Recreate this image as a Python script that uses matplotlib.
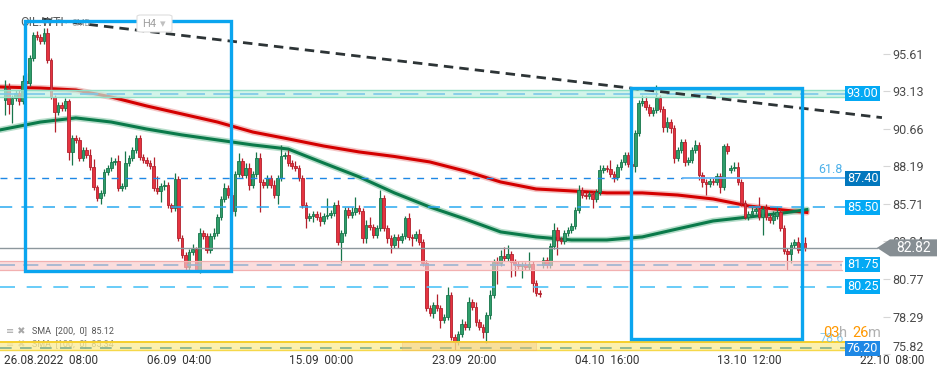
import numpy as np
import matplotlib
matplotlib.use("Agg")
import matplotlib.pyplot as plt
from matplotlib.patches import Rectangle, Polygon, FancyBboxPatch

plt.rcParams['font.family'] = ['Roboto', 'DejaVu Sans']

# ---- H4 candles of OIL.WTI (prices) ----
first_open = 92.56
closes = [
    93.35, 92.30, 92.69, 93.02, 92.50, 93.81, 93.68, 95.33, 96.84, 96.71,
    96.45, 96.98, 95.20, 92.76, 91.77, 92.23, 92.03, 92.50, 89.14, 90.06,
    89.93, 88.74, 89.27, 88.94, 88.15, 86.83, 86.11, 86.44, 87.82, 88.08,
    88.48, 88.54, 86.76, 86.90, 88.41, 88.74, 89.27, 90.06, 88.81, 88.61,
    88.41, 88.21, 86.76, 86.57, 86.90, 86.96, 85.64, 85.45, 87.36, 83.47,
    82.35, 81.56, 82.55, 82.75, 81.36, 83.80, 83.60, 82.68, 83.60, 83.80,
    84.85, 86.04, 86.76, 86.30, 85.25, 87.69, 88.54, 87.62, 88.08, 86.96,
    87.69, 88.74, 87.16, 86.96, 87.42, 86.96, 86.30, 87.42, 88.87, 88.94,
    88.41, 88.21, 88.08, 87.42, 85.64, 84.79, 84.92, 85.05, 84.85, 84.59,
    84.92, 84.99, 85.12, 85.64, 83.21, 83.80, 85.31, 84.99, 85.18, 85.45,
    85.25, 83.47, 84.33, 84.20, 83.67, 84.13, 86.11, 84.13, 83.47, 83.01,
    83.54, 83.34, 83.60, 84.79, 83.54, 83.47, 83.73, 83.21, 81.82, 78.86,
    78.53, 79.06, 78.86, 78.07, 78.27, 79.72, 76.95, 76.62, 77.15, 77.80,
    77.61, 79.25, 78.93, 77.94, 77.61, 77.28, 78.40, 79.72, 81.89, 81.82,
    82.28, 82.15, 82.42, 81.89, 81.76, 81.63, 81.69, 81.56, 81.76, 80.51,
    79.85, 79.78, 82.02, 81.69, 82.94, 84.00, 83.34, 83.27, 83.80, 84.00,
    84.26, 85.31, 86.63, 86.30, 86.24, 86.37, 86.04, 86.50, 87.95, 88.08,
    88.02, 87.69, 87.49, 88.15, 88.48, 88.94, 88.35, 88.21, 90.39, 92.36,
    92.50, 92.10, 91.71, 91.90, 92.69, 91.97, 90.78, 91.11, 90.72, 88.74,
    89.27, 89.80, 88.48, 88.61, 89.27, 89.60, 87.62, 87.16, 87.03, 87.23,
    87.16, 87.56, 86.83, 89.53, 89.20, 88.08, 88.15, 87.16, 85.78, 84.85,
    85.05, 85.25, 85.38, 84.85, 85.38, 84.85, 84.66, 84.92, 85.18, 84.13,
    82.61, 82.42, 83.01, 83.21, 82.68, 83.15, 82.82,
]
# candles that opened away from the previous close
gap_opens = {152: 81.69, 205: 87.95}

wick_up = [
    0.5, 0.3, 0.2, 0.2, 0.2, 0.4, 0.5, 0.2, 0.2, 0.3,
    0.2, 0.35, 0.3, 0.1, 0.15, 0.2, 0.2, 0.2, 0.15, 0.2,
    0.2, 0.2, 0.2, 0.2, 0.4, 0.5, 0.15, 0.2, 0.2, 0.2,
    0.3, 0.2, 0.4, 0.2, 0.8, 0.2, 0.2, 0.2, 0.2, 0.2,
    0.2, 0.2, 0.6, 0.8, 0.2, 0.3, 0.2, 0.15, 0.4, 0.2,
    0.2, 0.2, 0.2, 0.3, 0.15, 0.3, 0.2, 0.2, 0.2, 0.3,
    0.2, 0.2, 0.3, 0.2, 0.2, 0.2, 0.5, 0.2, 0.3, 0.3,
    0.2, 0.4, 0.3, 0.2, 0.2, 0.2, 0.3, 0.2, 0.7, 0.2,
    0.3, 0.2, 0.3, 0.2, 0.2, 0.2, 0.2, 0.2, 0.2, 0.3,
    0.2, 1.1, 0.2, 0.2, 0.3, 0.2, 0.2, 0.2, 0.3, 0.7,
    0.2, 0.2, 0.3, 0.5, 0.2, 0.2, 0.55, 0.2, 0.2, 0.2,
    0.2, 0.2, 0.2, 0.1, 0.3, 0.2, 0.2, 0.3, 0.2, 0.2,
    0.2, 0.2, 0.7, 0.2, 0.2, 0.5, 0.2, 0.2, 0.2, 0.3,
    0.2, 0.3, 0.2, 0.3, 0.2, 0.2, 0.2, 0.3, 0.2, 0.3,
    0.4, 0.6, 0.6, 0.2, 0.2, 0.2, 0.2, 0.2, 0.8, 0.2,
    0.2, 0.2, 0.2, 0.2, 0.2, 0.45, 0.2, 0.2, 0.2, 0.2,
    0.2, 0.2, 0.3, 0.2, 0.2, 0.2, 0.2, 0.2, 0.3, 0.2,
    0.2, 0.6, 0.2, 0.2, 0.2, 0.2, 0.2, 0.2, 0.2, 0.2,
    0.4, 0.3, 0.2, 0.2, 0.85, 0.2, 0.2, 0.3, 0.2, 0.2,
    0.2, 0.2, 0.2, 0.2, 0.2, 0.3, 0.2, 0.2, 0.2, 0.2,
    0.2, 0.2, 0.2, 0.1, 0.2, 0.2, 0.3, 0.3, 0.2, 0.2,
    0.2, 0.4, 0.2, 0.8, 0.2, 0.3, 0.2, 0.3, 0.35, 0.2,
    0.2, 0.2, 0.2, 0.2, 0.3, 0.2, 0.4,
]
wick_dn = [
    1.0, 0.65, 1.25, 0.2, 0.3, 0.2, 0.2, 0.2, 0.2, 0.2,
    0.2, 0.2, 0.2, 0.1, 1.3, 0.2, 0.2, 0.2, 0.5, 0.85,
    0.2, 0.2, 0.2, 0.2, 0.2, 0.2, 0.2, 0.4, 0.2, 0.2,
    0.2, 0.2, 0.2, 0.2, 0.2, 0.2, 0.2, 0.2, 0.2, 0.2,
    0.2, 0.2, 0.2, 0.2, 0.7, 0.3, 0.2, 0.3, 0.2, 0.2,
    0.2, 0.2, 0.2, 0.2, 0.1, 0.2, 0.2, 0.2, 0.2, 0.2,
    0.2, 0.2, 0.2, 0.2, 0.2, 0.3, 0.2, 0.2, 0.2, 0.3,
    0.2, 0.2, 2.0, 0.2, 0.2, 0.2, 0.2, 0.6, 0.2, 0.2,
    0.2, 0.2, 0.2, 0.2, 0.2, 0.65, 0.2, 0.4, 0.2, 0.3,
    0.2, 0.2, 0.2, 0.2, 0.2, 1.4, 0.2, 0.2, 0.2, 0.2,
    0.2, 0.3, 0.3, 0.2, 0.2, 0.2, 0.2, 0.2, 0.3, 0.5,
    0.2, 0.5, 0.2, 0.2, 0.2, 0.5, 0.2, 0.2, 0.2, 0.2,
    0.2, 0.3, 0.2, 0.5, 0.2, 0.2, 0.2, 0.5, 0.2, 0.2,
    0.2, 0.2, 0.2, 0.3, 0.2, 0.4, 0.7, 0.3, 0.2, 1.4,
    0.2, 0.2, 0.2, 1.0, 0.8, 0.2, 0.8, 0.2, 0.2, 0.6,
    0.2, 0.2, 0.2, 0.2, 0.2, 0.2, 1.0, 0.2, 0.2, 0.2,
    0.2, 0.2, 0.2, 0.2, 0.2, 0.2, 0.6, 0.2, 0.2, 0.2,
    0.2, 0.2, 0.35, 0.2, 0.2, 0.2, 0.2, 0.2, 0.4, 0.2,
    0.2, 0.2, 0.2, 0.2, 0.2, 0.2, 0.35, 0.3, 0.35, 0.35,
    0.2, 0.2, 0.3, 0.2, 0.2, 0.2, 0.3, 0.3, 0.7, 0.2,
    0.2, 0.2, 0.4, 0.2, 0.2, 0.2, 0.2, 0.2, 0.2, 0.1,
    0.2, 0.2, 0.2, 0.2, 1.2, 0.2, 0.2, 0.3, 0.2, 0.2,
    0.2, 1.05, 0.6, 0.2, 0.2, 0.6, 0.2,
]

# moving averages sampled along the chart
sma_idx = [-1.4, 10, 20, 30, 40, 50, 60, 70, 80, 90, 100, 110,
           120, 130, 140, 150, 160, 170, 180, 190, 200, 210, 220, 226.5]
sma200 = [93.42, 93.35, 93.22, 92.76, 92.17, 91.64, 91.11, 90.45, 90.00, 89.53, 89.14, 88.84,
          88.48, 87.88, 87.16, 86.70, 86.57, 86.44, 86.44, 86.30, 86.04, 85.58, 85.31, 85.15]
sma100 = [90.59, 91.11, 91.38, 91.11, 90.65, 90.26, 89.93, 89.60, 89.33, 88.41, 87.50, 86.44,
          85.51, 84.72, 83.87, 83.54, 83.34, 83.34, 83.54, 84.07, 84.59, 84.85, 85.12, 85.34]

price_ticks = [95.61, 93.13, 90.66, 88.19, 85.71, 83.24, 80.77, 78.29, 75.82]
time_labels = ["26.08.2022  08:00", "06.09  04:00", "15.09  00:00", "23.09  20:00",
               "04.10  16:00", "13.10  12:00", "22.10  08:00"]
current_price = 82.82

# drawn levels / annotations
level_boxes = [("93.00", 93.00, '#03a9f4'), ("87.40", 87.40, '#0277bd'),
               ("85.50", 85.50, '#03a9f4'), ("81.75", 81.75, '#03a9f4'),
               ("80.25", 80.25, '#03a9f4'), ("76.20", 76.20, '#1e88e5')]
trend_idx = [10.5, 247.7]
trend_price = [97.90, 91.40]
zones = [(5.65, 63.8, 81.30, 97.77), (176.8, 225.1, 76.82, 93.35)]

# ---- figure ----
W, H = 949, 378
fig = plt.figure(figsize=(W / 100, H / 100), dpi=100)
fig.patch.set_facecolor('white')
ax = fig.add_axes([0, 1 - 355 / H, 883 / W, 355 / H])
ax.set_xlim(-1.41, 248.0)
ax.set_ylim(75.76, 99.15)
for s in ax.spines.values():
    s.set_visible(False)

RX = 845 / 883  # where the level lines stop

closes = np.array(closes)
opens = np.r_[first_open, closes[:-1]]
for i, o in gap_opens.items():
    opens[i] = o
idx = np.arange(len(closes))
rising = closes >= opens
top = np.maximum(opens, closes)
bot = np.minimum(opens, closes)
highs = top + np.array(wick_up)
lows = bot - np.array(wick_dn)
fill = np.where(rising, '#2f9e6b', '#e53340')
edge = np.where(rising, '#17754a', '#b3202c')

ax.vlines(idx, lows, highs, colors=edge, lw=0.9, zorder=4)
ax.bar(idx, np.maximum(top - bot, 0.06), bottom=bot, width=0.75,
       color=fill, edgecolor=edge, linewidth=0.6, zorder=5)

# moving averages
ax.plot(sma_idx, sma200, color='#e88080', lw=4.5, alpha=0.45, zorder=3, solid_capstyle='round')
ax.plot(sma_idx, sma200, color='#d40000', lw=2.2, zorder=3.1)
ax.plot(sma_idx, sma100, color='#5fb48a', lw=4.5, alpha=0.45, zorder=3, solid_capstyle='round')
ax.plot(sma_idx, sma100, color='#0a7a4a', lw=2.2, zorder=3.1)

# bands
ax.axhspan(92.76, 93.22, xmax=RX, fc='#bff0e0', alpha=0.7, ec='none', zorder=6)
for y in (92.76, 93.22):
    ax.axhline(y, xmax=RX, color='#8fe0c6', lw=1, zorder=6)
ax.axhline(92.95, xmax=RX, color='#7cc8e8', lw=1.2, dashes=(11, 5), zorder=6)

ax.axhspan(81.36, 81.95, xmax=842 / 883, fc='#f9cccc', alpha=0.65, ec='none', zorder=6)
for y in (81.36, 81.95):
    ax.axhline(y, xmax=842 / 883, color='#f2b0b0', lw=0.9, zorder=6)
ax.axhline(81.68, xmax=842 / 883, color='#9db3d0', lw=1.2, dashes=(9, 5), zorder=6)

ax.axhspan(76.09, 76.62, xmax=RX, fc='#fbea8c', alpha=0.7, ec='none', zorder=6)
ax.axhline(76.62, xmax=RX, color='#f6cf2a', lw=1.4, zorder=6)
ax.axhline(76.09, xmax=RX, color='#f6d84a', lw=1.0, zorder=6)
ax.axhline(76.22, xmax=RX, color='#7fae8e', lw=1.2, dashes=(7, 5), zorder=6)
ax.add_patch(Rectangle((112, 76.09), 38, 0.5, fc='#f3c27a', alpha=0.35, ec='#f0b060',
                       lw=0.6, zorder=6))

# dashed levels
ax.axhline(87.40, xmax=683 / 883, color='#1e88e5', lw=1.0, dashes=(5, 5), zorder=6)
ax.axhline(87.40, xmin=683 / 883, xmax=RX, color='#64b5f6', lw=1.3, zorder=6)
ax.axhline(85.50, xmax=RX, color='#29a9f0', lw=1.1, dashes=(8, 6), zorder=6)
ax.axhline(80.25, xmax=RX, color='#4fc3f7', lw=1.2, dashes=(9, 7), zorder=6)
ax.axhline(current_price, xmax=877 / 883, color='#8d979d', lw=1.0, zorder=6)

# trendline and zone boxes
ax.plot(trend_idx, trend_price, color='#2d3436', lw=2, dashes=(3.4, 2.2), zorder=7,
        clip_on=False)
for x0, x1, y0, y1 in zones:
    ax.add_patch(Rectangle((x0, y0), x1 - x0, y1 - y0, fill=False, ec='#0aa5ef',
                           lw=2.4, zorder=8))

# right-hand labels
yt = ax.get_yaxis_transform()
bw, bh = 35 / 883, 15 * 0.06588
for lab, y, c in level_boxes:
    ax.add_patch(Rectangle((RX, y - bh / 2), bw, bh, transform=yt, fc=c, ec='none',
                           clip_on=False, zorder=9))
    ax.text(RX + bw / 2, y, lab, transform=yt, ha='center', va='center', color='white',
            fontsize=9, zorder=10, clip_on=False)

ph = 0.56
ax.add_patch(Polygon([(877 / 883, current_price), (890 / 883, current_price + ph),
                      (937 / 883, current_price + ph), (937 / 883, current_price - ph),
                      (890 / 883, current_price - ph)], closed=True, transform=yt,
                     fc='#868e93', ec='none', clip_on=False, zorder=11))
ax.text(913.5 / 883, current_price, f"{current_price:.2f}", transform=yt, ha='center',
        va='center', color='white', fontsize=10, zorder=12, clip_on=False)

ax.text(818 / 883, 87.55, "61.8", transform=yt, ha='left', va='bottom', color='#4db1ea',
        fontsize=9, zorder=9)
ax.text(820 / 883, 76.82, "78.6", transform=yt, ha='left', va='center', color='#6fbfe8',
        fontsize=9, alpha=0.8, zorder=9)
for x, s, c in [(823, "03", '#ff9800'), (839, "h", '#b0b0b0'),
                (852, "26", '#ff9800'), (868, "m", '#b0b0b0')]:
    ax.text(x / 883, 77.23, s, transform=yt, ha='left', va='center', color=c,
            fontsize=10.5, zorder=10, clip_on=False)

# axes ticks
ax.yaxis.tick_right()
ax.set_yticks(price_ticks)
ax.set_yticklabels([f"{v:.2f}" for v in price_ticks])
ax.tick_params(axis='y', length=5, color='#d6d6d6', labelsize=9, labelcolor='#4a4a4a', pad=2)
ax.get_yticklabels()[-1].set_va('bottom')
tick_pos = [-0.3 + 40.3 * k for k in range(len(time_labels))]
ax.set_xticks(tick_pos)
ax.set_xticklabels(time_labels, ha='left')
ax.tick_params(axis='x', length=0, labelsize=8.5, labelcolor='#333333', pad=-0.5)

# header and legend
ft = fig.transFigure
ax.text(20 / W, 1 - 23 / H, "OIL.WTI", transform=ft, fontsize=9, color='#5a5a5a',
        va='center', zorder=7)
ax.text(72 / W, 1 - 23 / H, "CMD", transform=ft, fontsize=6.5, color='#a0a0a0',
        va='center', zorder=7)
fig.add_artist(FancyBboxPatch((137 / W, 1 - 32 / H), 35 / W, 17 / H,
                              boxstyle='round,pad=0,rounding_size=0.004', transform=ft,
                              fc='white', ec='#dedede', lw=0.8))
fig.text(142 / W, 1 - 24 / H, "H4", fontsize=8, color='#a0a0a0', va='center')
fig.text(160 / W, 1 - 24 / H, "▾", fontsize=8, color='#c0c0c0', va='center',
         family=['DejaVu Sans'])

ax.text(6 / W, 1 - 331 / H, "≡ ✖", transform=ft, fontsize=7, color='#a8a8a8',
        va='center', family=['DejaVu Sans'], zorder=5)
ax.text(32 / W, 1 - 331 / H, "SMA  [200,  0]  85.12", transform=ft, fontsize=6.5,
        color='#555555', va='center', zorder=5)
ax.text(6 / W, 1 - 344 / H, "≡ ✖", transform=ft, fontsize=7, color='#b8b8b8',
        va='center', family=['DejaVu Sans'], zorder=5)
ax.text(32 / W, 1 - 344 / H, "SMA  [100,  0]  85.34", transform=ft, fontsize=6.5,
        color='#8a8a7a', va='center', zorder=5)

fig.savefig("out.png", dpi=100, facecolor='white')
